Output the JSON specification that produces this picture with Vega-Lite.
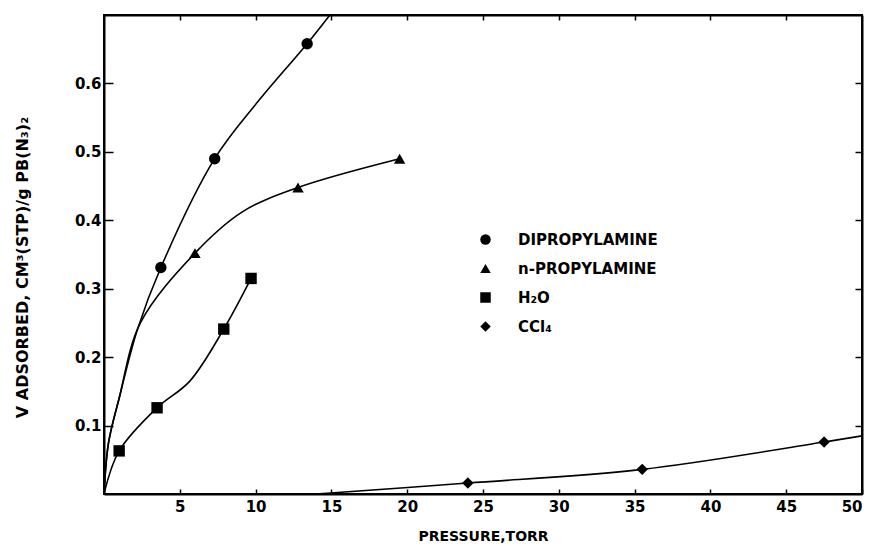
{
  "$schema": "https://vega.github.io/schema/vega-lite/v6.json",
  "width": 758,
  "height": 479,
  "autosize": {"type": "none"},
  "padding": {"left": 104, "top": 15, "right": 11, "bottom": 52},
  "background": "white",
  "config": {
    "font": "DejaVu Sans",
    "view": {"stroke": "black", "strokeWidth": 2},
    "axis": {
      "domainColor": "black",
      "domainWidth": 2,
      "tickColor": "black",
      "tickWidth": 1.5,
      "grid": false,
      "labelFont": "DejaVu Sans",
      "labelFontWeight": "bold",
      "labelFontSize": 15,
      "labelColor": "black",
      "titleFont": "DejaVu Sans",
      "titleFontWeight": "bold",
      "titleFontSize": 14,
      "titleColor": "black"
    }
  },
  "datasets": {
    "markers": [
      {"series": "DIPROPYLAMINE", "x": 3.75, "y": 0.331},
      {"series": "DIPROPYLAMINE", "x": 7.3, "y": 0.49},
      {"series": "DIPROPYLAMINE", "x": 13.4, "y": 0.658},
      {"series": "n-PROPYLAMINE", "x": 6.0, "y": 0.352},
      {"series": "n-PROPYLAMINE", "x": 12.8, "y": 0.448},
      {"series": "n-PROPYLAMINE", "x": 19.5, "y": 0.49},
      {"series": "H₂O", "x": 1.0, "y": 0.063},
      {"series": "H₂O", "x": 3.5, "y": 0.126},
      {"series": "H₂O", "x": 7.9, "y": 0.241},
      {"series": "H₂O", "x": 9.7, "y": 0.315},
      {"series": "CCl₄", "x": 24.0, "y": 0.016},
      {"series": "CCl₄", "x": 35.5, "y": 0.036},
      {"series": "CCl₄", "x": 47.5, "y": 0.076}
    ],
    "curves": [
      {"series": "DIPROPYLAMINE", "x": 0, "y": 0},
      {"series": "DIPROPYLAMINE", "x": 0.3, "y": 0.075},
      {"series": "DIPROPYLAMINE", "x": 1.0, "y": 0.14},
      {"series": "DIPROPYLAMINE", "x": 2.2, "y": 0.24},
      {"series": "DIPROPYLAMINE", "x": 3.75, "y": 0.331},
      {"series": "DIPROPYLAMINE", "x": 7.3, "y": 0.49},
      {"series": "DIPROPYLAMINE", "x": 10.1, "y": 0.572},
      {"series": "DIPROPYLAMINE", "x": 13.4, "y": 0.658},
      {"series": "DIPROPYLAMINE", "x": 14.9, "y": 0.70},
      {"series": "n-PROPYLAMINE", "x": 0, "y": 0},
      {"series": "n-PROPYLAMINE", "x": 0.3, "y": 0.075},
      {"series": "n-PROPYLAMINE", "x": 1.0, "y": 0.14},
      {"series": "n-PROPYLAMINE", "x": 2.4, "y": 0.25},
      {"series": "n-PROPYLAMINE", "x": 6.0, "y": 0.352},
      {"series": "n-PROPYLAMINE", "x": 9.1, "y": 0.412},
      {"series": "n-PROPYLAMINE", "x": 12.8, "y": 0.448},
      {"series": "n-PROPYLAMINE", "x": 19.5, "y": 0.49},
      {"series": "H₂O", "x": 0, "y": 0},
      {"series": "H₂O", "x": 1.0, "y": 0.063},
      {"series": "H₂O", "x": 3.5, "y": 0.126},
      {"series": "H₂O", "x": 5.66, "y": 0.165},
      {"series": "H₂O", "x": 7.9, "y": 0.241},
      {"series": "H₂O", "x": 9.7, "y": 0.315},
      {"series": "CCl₄", "x": 14, "y": 0},
      {"series": "CCl₄", "x": 24.0, "y": 0.016},
      {"series": "CCl₄", "x": 35.5, "y": 0.036},
      {"series": "CCl₄", "x": 47.5, "y": 0.076},
      {"series": "CCl₄", "x": 50, "y": 0.085}
    ]
  },
  "resolve": {"axis": {"x": "independent", "y": "independent"}},
  "layer": [
    {
      "data": {"name": "curves"},
      "mark": {"type": "line", "color": "black", "strokeWidth": 1.6, "interpolate": "catmull-rom", "clip": true},
      "encoding": {
        "x": {
          "field": "x", "type": "quantitative",
          "scale": {"domain": [0, 50], "nice": false, "zero": false},
          "axis": {
            "orient": "bottom",
            "values": [5, 10, 15, 20, 25, 30, 35, 40, 45, 50],
            "tickSize": -5,
            "labelPadding": 10,
            "title": "PRESSURE,TORR",
            "titleY": 42,
            "titleBaseline": "middle"
          }
        },
        "y": {
          "field": "y", "type": "quantitative",
          "scale": {"domain": [0, 0.70], "nice": false},
          "axis": {
            "orient": "left",
            "values": [0.1, 0.2, 0.3, 0.4, 0.5, 0.6],
            "format": ".1f",
            "tickSize": -9,
            "labelPadding": 12,
            "title": "V ADSORBED, CM³(STP)/g PB(N₃)₂",
            "titleFontSize": 16,
            "titleX": -82,
            "titleY": 252,
            "titleAngle": -90,
            "titleBaseline": "middle",
            "titleAlign": "center"
          }
        },
        "detail": {"field": "series"}
      }
    },
    {
      "data": {"name": "markers"},
      "mark": {"type": "point", "filled": true, "color": "black", "opacity": 1, "size": 130},
      "encoding": {
        "x": {
          "field": "x", "type": "quantitative",
          "axis": {
            "orient": "top",
            "values": [5, 10, 15, 20, 25, 30, 35, 40, 45],
            "tickSize": -5,
            "labels": false,
            "title": null
          }
        },
        "y": {
          "field": "y", "type": "quantitative",
          "axis": {
            "orient": "right",
            "values": [0.1, 0.2, 0.3, 0.4, 0.5, 0.6],
            "tickSize": -7,
            "labels": false,
            "title": null
          }
        },
        "shape": {
          "field": "series", "type": "nominal",
          "scale": {
            "domain": ["DIPROPYLAMINE", "n-PROPYLAMINE", "H₂O", "CCl₄"],
            "range": ["circle", "triangle-up", "square", "diamond"]
          },
          "legend": {
            "orient": "none",
            "legendX": 374,
            "legendY": 217,
            "title": null,
            "symbolFillColor": "black",
            "symbolStrokeColor": "black",
            "symbolSize": 110,
            "symbolType": "circle",
            "labelFont": "DejaVu Sans",
            "labelFontWeight": "bold",
            "labelFontSize": 15,
            "labelColor": "black",
            "labelOffset": 25,
            "rowPadding": 12
          }
        }
      }
    }
  ]
}
